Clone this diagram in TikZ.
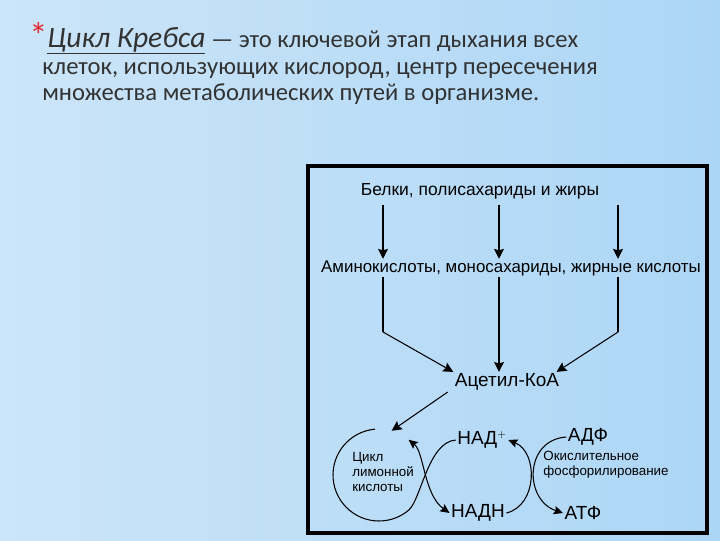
\documentclass[tikz,border=0pt]{standalone}
\usepackage{fontspec}
\setmainfont{Liberation Sans}
\newfontfamily\titlefont{Carlito}
\usetikzlibrary{arrows.meta,positioning}

\definecolor{skyleft}{RGB}{204,229,248}
\definecolor{skymid}{RGB}{240,248,254}
\definecolor{skyright}{RGB}{172,214,246}
\definecolor{titlegray}{RGB}{50,50,50}
\definecolor{starred}{RGB}{225,45,45}

\tikzset{
  line/.style={line width=0.75pt, black},
  arr/.style={line, -{Stealth[length=7pt,width=7pt,inset=1pt]}},
  bendarr/.style={line, -{Stealth[length=6.5pt,width=6pt,inset=1pt]}},
  dblarr/.style={line, {Stealth[length=6.5pt,width=6pt,inset=1pt]}-{Stealth[length=6.5pt,width=6pt,inset=1pt]}},
  big/.style={font=\fontsize{12.4}{14}\selectfont, inner sep=1pt},
  mol/.style={font=\fontsize{13.5}{15}\selectfont, inner sep=1pt},
  small/.style={font=\fontsize{9.5}{10.8}\selectfont, align=left, inner sep=0pt},
  titleline/.style={font=\titlefont\fontsize{17.5}{21}\selectfont, text=titlegray, anchor=base west, inner sep=0pt}
}

\begin{document}
\begin{tikzpicture}[x=0.025cm, y=-0.025cm]
\useasboundingbox (0,0) rectangle (720,540);
\shade[left color=skyleft, middle color=skymid, right color=skyright] (0,0) rectangle (720,540);

% title
\node[titleline] (title1) at (29,47) {\textcolor{starred}{\fontsize{26}{26}\selectfont\raisebox{-1pt}{*}}\underline{\textit{\fontsize{21}{21}\selectfont Цикл Кребса}} — это ключевой этап дыхания всех};
\node[titleline] (title2) at (42,74) {клеток, использующих кислород, центр пересечения};
\node[titleline] (title3) at (42,100) {множества метаболических путей в организме.};

% frame
\draw[line width=2.2pt] (308,166) rectangle (707,533);

% nodes
\node[big] (proteins) at (480,191) {Белки, полисахариды и жиры};
\node[big, font=\fontsize{12}{14}\selectfont] (monomers) at (511,268) {Аминокислоты, моносахариды, жирные кислоты};
\node[mol] (acetyl) at (507,382) {Ацетил-КоА};
\node[small, circle, minimum size=2.3cm, outer sep=0pt] (cycle) at (379,475) {};
\node[small, anchor=west] (cyclename) at (352,472) {Цикл\\лимонной\\кислоты};
\node[mol] (nad) at (482,440) {НАД$^{\scriptscriptstyle +}$};
\node[mol] (nadh) at (478,513) {НАДН};
\node[mol] (adp) at (588,437) {АДФ};
\node[mol] (atp) at (583,513) {АТФ};
\node[small] (oxphos) at (606,465) {Окислительное\\фосфорилирование};

\coordinate (left) at (383,332);
\coordinate (right) at (618,332);

% first stage
\foreach \xx in {383,499,618}
  \draw[arr] (proteins.south -| \xx,0) ++(0,4) -- (monomers.north -| \xx,0);

% second stage
\draw[line] (monomers.south -| left) -- (left) edge[arr] (acetyl.north west);
\draw[arr] (monomers.south -| 499,0) -- (acetyl.north -| 499,0);
\draw[line] (monomers.south -| right) -- (right) edge[arr] ([xshift=-3pt]acetyl.north east);

% cycle
\draw[arr] ([xshift=-4pt]acetyl.south west) -- (cycle.74);
\draw[line] (cycle.95) arc[start angle=-95, end angle=-310, radius=46]
  .. controls (421,500) and (428,442) .. (nad.west);
\draw[dblarr] (cycle.50) .. controls (424,452) and (424,495) .. (nadh.west);

% oxidative phosphorylation
\draw[bendarr] (nadh.east) .. controls (538,505) and (538,452) .. (nad.east);
\draw[bendarr] (adp.west) .. controls (524,440) and (524,500) .. (atp.west);
\end{tikzpicture}
\end{document}
